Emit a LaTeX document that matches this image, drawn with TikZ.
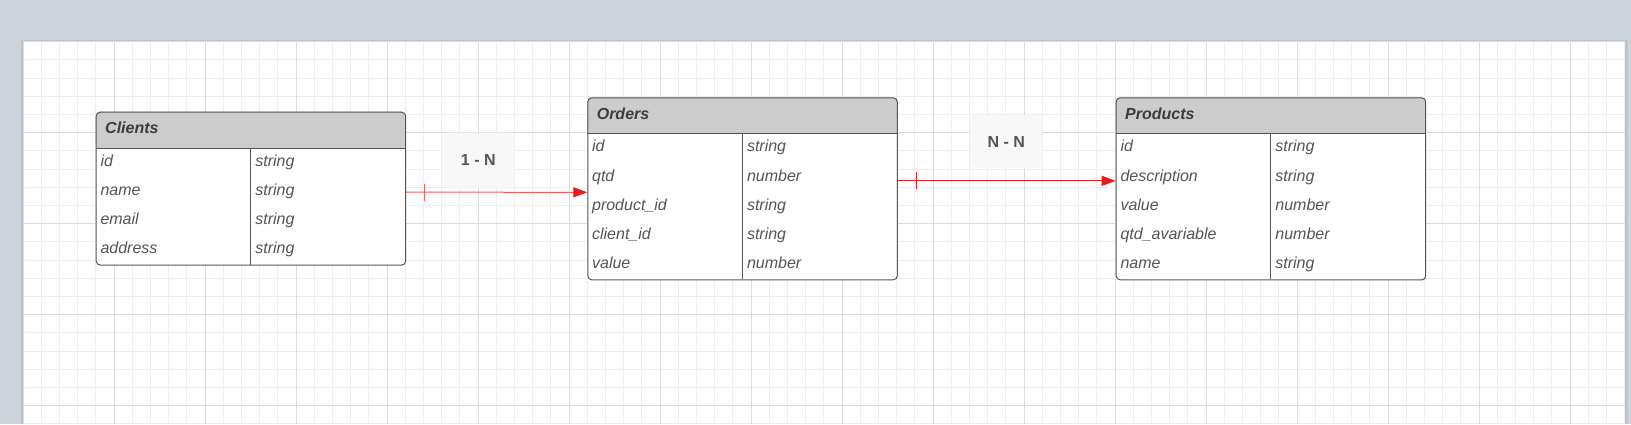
\documentclass[tikz,border=0pt]{standalone}
\usepackage{fontspec}
\setmainfont{Liberation Sans}
\usetikzlibrary{arrows.meta,calc}
\definecolor{bgc}{RGB}{205,212,220}
\definecolor{shadowc}{RGB}{190,197,206}
\definecolor{gridminor}{RGB}{238,238,238}
\definecolor{gridmajor}{RGB}{220,220,220}
\definecolor{hdrfill}{RGB}{204,204,204}
\definecolor{bordc}{RGB}{85,85,85}
\definecolor{txtc}{RGB}{85,85,85}
\definecolor{titlec}{RGB}{60,60,60}
\definecolor{lblfill}{RGB}{248,248,248}
\definecolor{relred}{RGB}{232,28,28}
\definecolor{relpink}{RGB}{240,96,96}
\tikzset{
  tblborder/.style={draw=bordc, line width=1pt, rounded corners=4pt, inner sep=0pt},
  rowtxt/.style={font=\fontsize{16}{18}\selectfont\itshape, text=txtc, inner sep=0pt, anchor=base west},
  titletxt/.style={font=\fontsize{16}{18}\selectfont\bfseries\itshape, text=titlec, inner sep=0pt, anchor=base west},
  rellabel/.style={fill=lblfill, rounded corners=5pt, inner sep=0pt, font=\fontsize{16}{18}\selectfont\bfseries, text=txtc},
  relline/.style={line width=1pt},
}
\newcommand\ertable[6]{%
  \pgfmathsetmacro\tH{36.3+29.15*#5}%
  \fill[white, rounded corners=4pt] (#2,#3) rectangle ++(309.5,\tH);
  \fill[hdrfill, rounded corners=4pt] (#2,#3) rectangle ++(309.5,36.3);
  \fill[hdrfill] (#2,#3+18) rectangle ++(309.5,18.3);
  \node[tblborder, anchor=north west, minimum width=309.5pt, minimum height=\tH pt] (#1) at (#2,#3) {};
  \draw[bordc, line width=1pt] (#2,#3+36.3) -- ++(309.5,0);
  \draw[bordc, line width=1pt] (#2+154.8,#3+36.3) -- (#2+154.8,#3+\tH);
  \node[titletxt] (#1-title) at (#2+9.3,#3+22) {#4};
  \foreach \n/\t [count=\i] in {#6} {
    \node[rowtxt] (#1-n\i) at (#2+4.6,#3+36.3+29.15*\i-10.8) {\n};
    \node[rowtxt] (#1-t\i) at (#2+154.8+4.7,#3+36.3+29.15*\i-10.8) {\t};
  }
}
\begin{document}
\begin{tikzpicture}[x=1pt,y=-1pt]
\useasboundingbox (0,0) rectangle (1631,424);
\fill[bgc] (0,0) rectangle (1631,424);
\fill[shadowc] (21,40) rectangle (1628,424);
\fill[white] (23,41.5) rectangle (1625,424);
% grid
\begin{scope}
\clip (23,41.5) rectangle (1625,424);
\foreach \i in {0,...,88} {\draw[gridminor, line width=0.7pt] (23+\i*18.2,41.5) -- (23+\i*18.2,424);}
\foreach \i in {0,...,21} {\draw[gridminor, line width=0.7pt] (23,41.5+\i*18.2) -- (1625,41.5+\i*18.2);}
\foreach \i in {0,...,18} {\draw[gridmajor, line width=0.9pt] (23+\i*91,41.5) -- (23+\i*91,424);}
\foreach \i in {0,...,5} {\draw[gridmajor, line width=0.9pt] (23,41.5+\i*91) -- (1625,41.5+\i*91);}
\end{scope}
% tables
\ertable{clients}{95.7}{111.7}{Clients}{4}{id/string,name/string,email/string,address/string}
\ertable{orders}{587.3}{97.3}{Orders}{5}{id/string,qtd/number,product\_id/string,client\_id/string,value/number}
\ertable{products}{1115.7}{97.3}{Products}{5}{id/string,description/string,value/number,qtd\_avariable/number,name/string}
% relation labels
\node[rellabel, minimum width=72pt, minimum height=54.6pt] (lbl1) at (478.3,160) {1 - N};
\node[rellabel, minimum width=72.3pt, minimum height=53.3pt] (lbl2) at (1006.2,141.7) {N - N};
% connectors
\draw[relline, relpink, -{Triangle[length=14pt,width=10pt,color=relred]}] ([yshift=-3.5pt]clients.east) -- ([yshift=-3.5pt]orders.west);
\draw[relline, relpink] ([xshift=18.4pt,yshift=5pt]clients.east) -- ([xshift=18.4pt,yshift=-12pt]clients.east);
\draw[relline, relred, -{Triangle[length=14pt,width=10pt]}] ([yshift=8pt]orders.east) -- ([yshift=8pt]products.west);
\draw[relline, relred] ([xshift=18.6pt,yshift=16.5pt]orders.east) -- ([xshift=18.6pt,yshift=-0.5pt]orders.east);
\end{tikzpicture}
\end{document}
